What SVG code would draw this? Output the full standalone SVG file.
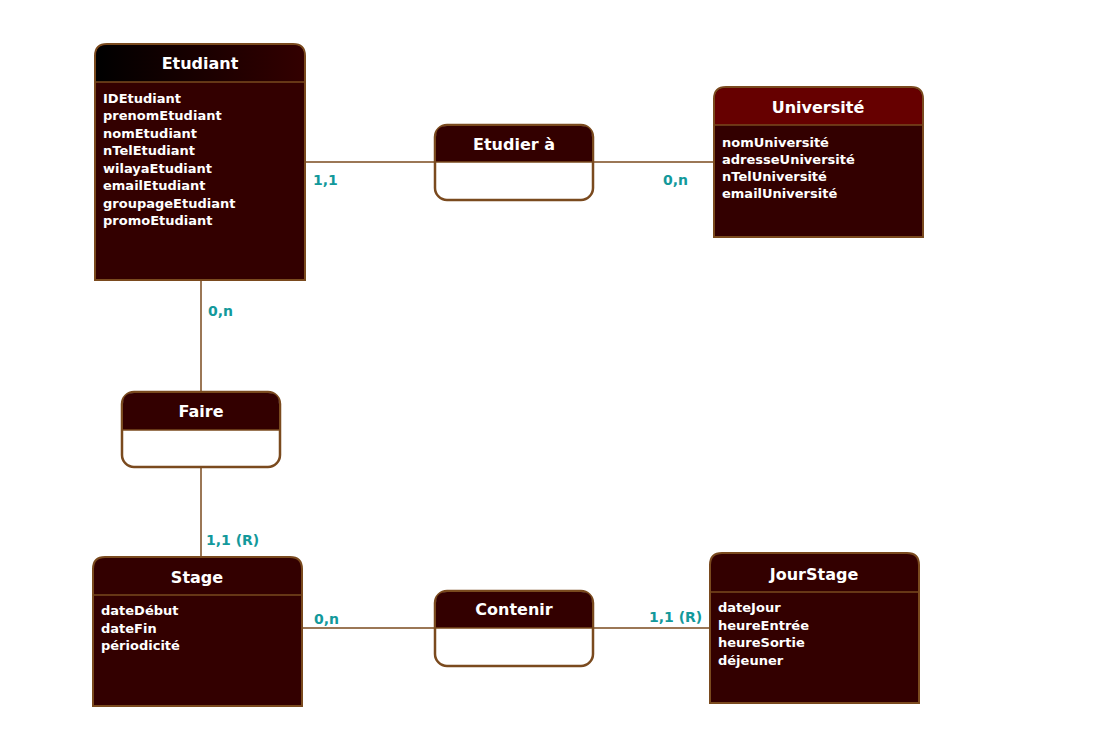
<svg xmlns="http://www.w3.org/2000/svg" width="1093" height="748" viewBox="0 0 1093 748">
<defs>
<linearGradient id="gEtu" x1="0" y1="0" x2="1" y2="0">
<stop offset="0" stop-color="#000000"/>
<stop offset="1" stop-color="#330000"/>
</linearGradient>
<style>
.box{fill:#330000;stroke:#7a4a1e;stroke-width:2}
.sep{stroke:#7a4a1e;stroke-width:1.5}
.rel{fill:#ffffff;stroke:#7a4a1e;stroke-width:2.5}
.title{font-family:"DejaVu Sans",sans-serif;font-weight:bold;font-size:16px;fill:#ffffff;text-anchor:middle}
.attr{font-family:"DejaVu Sans",sans-serif;font-weight:bold;font-size:13px;fill:#ffffff}
.card{font-family:"DejaVu Sans",sans-serif;font-weight:bold;font-size:14px;fill:#13999b}
.conn line{stroke:#7a4a1e;stroke-width:1.5}
</style>
</defs>
<rect width="1093" height="748" fill="#ffffff"/>
<g id="connectors" class="conn">
<line x1="305" y1="162" x2="435" y2="162"/>
<line x1="593" y1="162" x2="714" y2="162"/>
<line x1="201" y1="280" x2="201" y2="392"/>
<line x1="201" y1="467" x2="201" y2="557"/>
<line x1="302" y1="628" x2="435" y2="628"/>
<line x1="593" y1="628" x2="710" y2="628"/>
<text class="card" x="313" y="185">1,1</text>
<text class="card" x="663" y="185">0,n</text>
<text class="card" x="208" y="316">0,n</text>
<text class="card" x="206" y="545">1,1 (R)</text>
<text class="card" x="314" y="624">0,n</text>
<text class="card" x="649" y="622">1,1 (R)</text>
</g>
<g id="etudiant">
<path class="box" d="M95,280 V56 Q95,44 107,44 H293 Q305,44 305,56 V280 Z"/>
<path d="M96,82 V56 Q96,45 107,45 H293 Q304,45 304,56 V82 Z" fill="url(#gEtu)"/>
<line class="sep" x1="95" y1="82" x2="305" y2="82"/>
<text class="title" x="200" y="69">Etudiant</text>
<text class="attr" x="103" y="103">IDEtudiant</text>
<text class="attr" x="103" y="120">prenomEtudiant</text>
<text class="attr" x="103" y="138">nomEtudiant</text>
<text class="attr" x="103" y="155">nTelEtudiant</text>
<text class="attr" x="103" y="173">wilayaEtudiant</text>
<text class="attr" x="103" y="190">emailEtudiant</text>
<text class="attr" x="103" y="208">groupageEtudiant</text>
<text class="attr" x="103" y="225">promoEtudiant</text>
</g>
<g id="etudier">
<rect class="rel" x="435" y="125" width="158" height="75" rx="12"/>
<path d="M436,162 V137 Q436,126 447,126 H581 Q592,126 592,137 V162 Z" fill="#330000"/>
<line class="sep" x1="435" y1="162" x2="593" y2="162"/>
<text class="title" x="514" y="150">Etudier à</text>
</g>
<g id="universite">
<path class="box" d="M714,237 V99 Q714,87 726,87 H911 Q923,87 923,99 V237 Z"/>
<path d="M715,125 V99 Q715,88 726,88 H911 Q922,88 922,99 V125 Z" fill="#660000"/>
<line class="sep" x1="714" y1="125" x2="923" y2="125"/>
<text class="title" x="818" y="113">Université</text>
<text class="attr" x="722" y="147">nomUniversité</text>
<text class="attr" x="722" y="164">adresseUniversité</text>
<text class="attr" x="722" y="181">nTelUniversité</text>
<text class="attr" x="722" y="198">emailUniversité</text>
</g>
<g id="faire">
<rect class="rel" x="122" y="392" width="158" height="75" rx="12"/>
<path d="M123,430 V404 Q123,393 134,393 H268 Q279,393 279,404 V430 Z" fill="#330000"/>
<line class="sep" x1="122" y1="430" x2="280" y2="430"/>
<text class="title" x="201" y="417">Faire</text>
</g>
<g id="stage">
<path class="box" d="M93,706 V569 Q93,557 105,557 H290 Q302,557 302,569 V706 Z"/>
<line class="sep" x1="93" y1="595" x2="302" y2="595"/>
<text class="title" x="197" y="583">Stage</text>
<text class="attr" x="101" y="615">dateDébut</text>
<text class="attr" x="101" y="633">dateFin</text>
<text class="attr" x="101" y="650">périodicité</text>
</g>
<g id="contenir">
<rect class="rel" x="435" y="591" width="158" height="75" rx="12"/>
<path d="M436,628 V603 Q436,592 447,592 H581 Q592,592 592,603 V628 Z" fill="#330000"/>
<line class="sep" x1="435" y1="628" x2="593" y2="628"/>
<text class="title" x="514" y="615">Contenir</text>
</g>
<g id="jourstage">
<path class="box" d="M710,703 V565 Q710,553 722,553 H907 Q919,553 919,565 V703 Z"/>
<line class="sep" x1="710" y1="592" x2="919" y2="592"/>
<text class="title" x="814" y="580">JourStage</text>
<text class="attr" x="718" y="612">dateJour</text>
<text class="attr" x="718" y="630">heureEntrée</text>
<text class="attr" x="718" y="647">heureSortie</text>
<text class="attr" x="718" y="665">déjeuner</text>
</g>
</svg>
